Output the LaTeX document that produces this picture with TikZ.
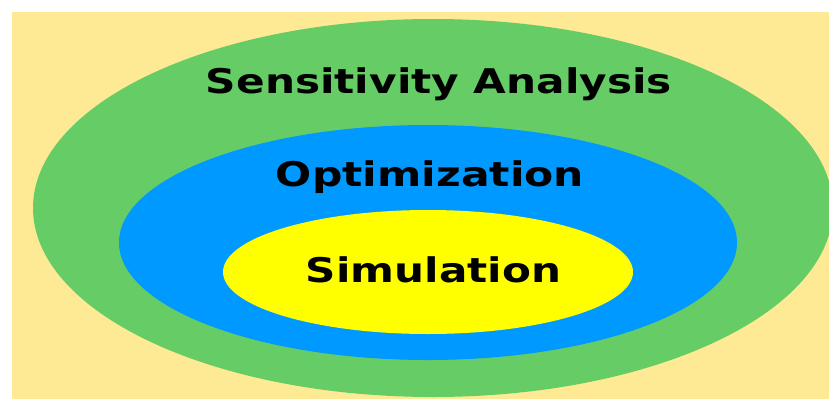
\documentclass[tikz,border=0pt]{standalone}
\usepackage{fontspec}
\setmainfont{DejaVu Sans}
\usetikzlibrary{shapes.geometric}
\definecolor{sand}{HTML}{FEEA94}
\definecolor{leaf}{HTML}{66CC66}
\definecolor{sky}{HTML}{0099FF}
\definecolor{lemon}{HTML}{FFFF00}
% stretch a label horizontally to a given width, keeping its height
\newcommand\fitto[2]{\resizebox{#1}{\height}{#2}}
\tikzset{
  ring/.style={ellipse, draw=none, inner sep=0pt},
  tag/.style={anchor=base, inner sep=0pt, text=black,
    font=\fontsize{34}{38}\selectfont\bfseries}
}
\begin{document}
\begin{tikzpicture}[x=1pt, y=-1pt]
  \useasboundingbox (0,0) rectangle (829,399);
  \fill[white] (0,0) rectangle (829,399);
  \begin{scope}
    \clip (12,12) rectangle (829,399);
    \fill[sand] (12,12) rectangle (829,399);
    \node[ring, fill=leaf, minimum width=800pt, minimum height=378pt] (outer) at (433,208) {};
    \node[ring, fill=sky, minimum width=618pt, minimum height=235pt] (middle) at (428,242.5) {};
    \node[ring, fill=lemon, minimum width=410pt, minimum height=124pt] (inner) at (428,272) {};
  \end{scope}
  \node[tag] (sens) at (439,93) {\fitto{466pt}{Sensitivity Analysis}};
  \node[tag] (opt) at (430,186) {\fitto{308pt}{Optimization}};
  \node[tag] (sim) at (433.5,282) {\fitto{255pt}{Simulation}};
\end{tikzpicture}
\end{document}
